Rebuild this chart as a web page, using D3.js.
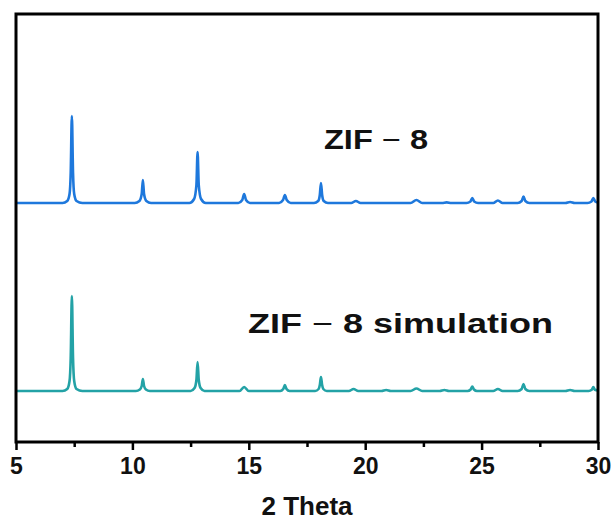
<!DOCTYPE html>
<html lang="en">
<head>
<meta charset="UTF-8">
<title>ZIF-8 XRD</title>
<script src="https://d3js.org/d3.v7.min.js"></script>
<style>
    body { margin: 0; background: #fff; }
    text { font-family: Arial, "Liberation Sans", sans-serif; font-weight: bold; }
</style>
</head>
<body>
<svg width="614" height="522"></svg>
<script>
// measured pattern, [2theta, intensity a.u.]
var zif8 = [
    [5, 0],
    [7.0, 0], [7.2, 2], [7.3, 9], [7.35, 30], [7.4, 87], [7.45, 30], [7.5, 9], [7.6, 2], [7.85, 0],
    [10.1, 0], [10.3, 2], [10.4, 9], [10.45, 23], [10.5, 9], [10.6, 2], [10.8, 0],
    [12.45, 0], [12.65, 4], [12.75, 18], [12.8, 51], [12.85, 18], [12.95, 4], [13.15, 0],
    [14.55, 0], [14.72, 3], [14.8, 9], [14.88, 3], [15.05, 0],
    [16.3, 0], [16.47, 3], [16.55, 8], [16.63, 3], [16.8, 0],
    [17.8, 0], [17.98, 2], [18.05, 8], [18.1, 20], [18.15, 8], [18.22, 2], [18.4, 0],
    [19.4, 0], [19.6, 2], [19.8, 0],
    [21.95, 0], [22.2, 3], [22.45, 0],
    [23.3, 0], [23.5, 0.6], [23.7, 0],
    [24.35, 0], [24.52, 1.5], [24.6, 5], [24.68, 1.5], [24.85, 0],
    [25.5, 0], [25.7, 2.5], [25.9, 0],
    [26.55, 0], [26.72, 2], [26.8, 6.5], [26.88, 2], [27.05, 0],
    [28.6, 0], [28.8, 1], [29.0, 0],
    [29.55, 0], [29.72, 1.5], [29.8, 5], [29.88, 1.5], [30, 0.5]
];

// simulated pattern
var zif8Sim = [
    [5, 0],
    [7.0, 0], [7.2, 2], [7.3, 10], [7.35, 33], [7.4, 95], [7.45, 33], [7.5, 10], [7.6, 2], [7.85, 0],
    [10.15, 0], [10.32, 1.5], [10.4, 5], [10.45, 12], [10.5, 5], [10.58, 1.5], [10.75, 0],
    [12.5, 0], [12.67, 3], [12.75, 11], [12.8, 29], [12.85, 11], [12.93, 3], [13.1, 0],
    [14.6, 0], [14.8, 4], [15.0, 0],
    [16.35, 0], [16.48, 2], [16.55, 6], [16.62, 2], [16.75, 0],
    [17.85, 0], [18.0, 2], [18.05, 6], [18.1, 14], [18.15, 6], [18.2, 2], [18.35, 0],
    [19.3, 0], [19.5, 2], [19.7, 0],
    [20.7, 0], [20.9, 1], [21.1, 0],
    [21.95, 0], [22.2, 2.5], [22.45, 0],
    [23.2, 0], [23.4, 1], [23.6, 0],
    [24.4, 0], [24.53, 1.5], [24.6, 4.5], [24.67, 1.5], [24.8, 0],
    [25.5, 0], [25.7, 2], [25.9, 0],
    [26.55, 0], [26.72, 2], [26.8, 7], [26.88, 2], [27.05, 0],
    [28.6, 0], [28.8, 1], [29.0, 0],
    [29.6, 0], [29.73, 1.2], [29.8, 4], [29.87, 1.2], [30, 0.5]
];

var majorTicks = [5, 10, 15, 20, 25, 30];
var minorTicks = [7.5, 12.5, 17.5, 22.5, 27.5];

var svg = d3.select("svg");
var pLeft = 16, pRight = 598, pTop = 14, pBottom = 442;

var x = d3.scaleLinear().domain([5, 30]).range([pLeft, pRight]);
var y = d3.scaleLinear().domain([0, 428]).range([pBottom, pTop]);

var series = [
    { data: zif8, offset: 239, color: "#1e78dc", label: "ZIF\u22128", lx: 324, ly: 149, len: 104 },
    { data: zif8Sim, offset: 51, color: "#23a2a6", label: "ZIF\u22128 simulation", lx: 248, ly: 333, len: 305 }
];

var line = d3.line()
    .x(function(d) { return x(d[0]); })
    .curve(d3.curveMonotoneX);

series.forEach(function(s) {
    line.y(function(d) { return y(d[1] + s.offset); });
    svg.append("path")
        .datum(s.data)
        .attr("fill", "none")
        .attr("stroke", s.color)
        .attr("stroke-width", 2.6)
        .attr("stroke-linejoin", "round")
        .attr("d", line);

    var t = svg.append("text")
        .attr("x", s.lx)
        .attr("y", s.ly)
        .attr("font-size", "28px")
        .attr("fill", "#111")
        .attr("textLength", s.len)
        .attr("lengthAdjust", "spacingAndGlyphs");
    var parts = s.label.split("\u2212");
    t.append("tspan").text(parts[0]);
    t.append("tspan").attr("font-weight", "normal").text(" \u2212 ");
    t.append("tspan").text(parts[1]);
});

// minor ticks
svg.append("g")
    .attr("transform", "translate(0," + pBottom + ")")
    .call(d3.axisBottom(x).tickValues(minorTicks).tickSize(5).tickFormat(""))
    .call(function(g) { g.select(".domain").remove(); })
    .selectAll("line").attr("stroke", "#000").attr("stroke-width", 2.5);

// major ticks + labels
var xAxis = svg.append("g")
    .attr("transform", "translate(0," + pBottom + ")")
    .call(d3.axisBottom(x).tickValues(majorTicks).tickSize(8).tickPadding(8).tickFormat(d3.format("d")));
xAxis.select(".domain").remove();
xAxis.selectAll("line").attr("stroke", "#000").attr("stroke-width", 2.5);
xAxis.selectAll("text")
    .attr("font-size", "23px")
    .attr("fill", "#111")
    .attr("font-family", "Arial, 'Liberation Sans', sans-serif");

// frame
svg.append("rect")
    .attr("x", pLeft)
    .attr("y", pTop)
    .attr("width", pRight - pLeft)
    .attr("height", pBottom - pTop)
    .attr("fill", "none")
    .attr("stroke", "#000")
    .attr("stroke-width", 3);

svg.append("text")
    .attr("x", (pLeft + pRight) / 2)
    .attr("y", 515)
    .attr("text-anchor", "middle")
    .attr("font-size", "26px")
    .attr("fill", "#111")
    .text("2 Theta");
</script>
</body>
</html>
